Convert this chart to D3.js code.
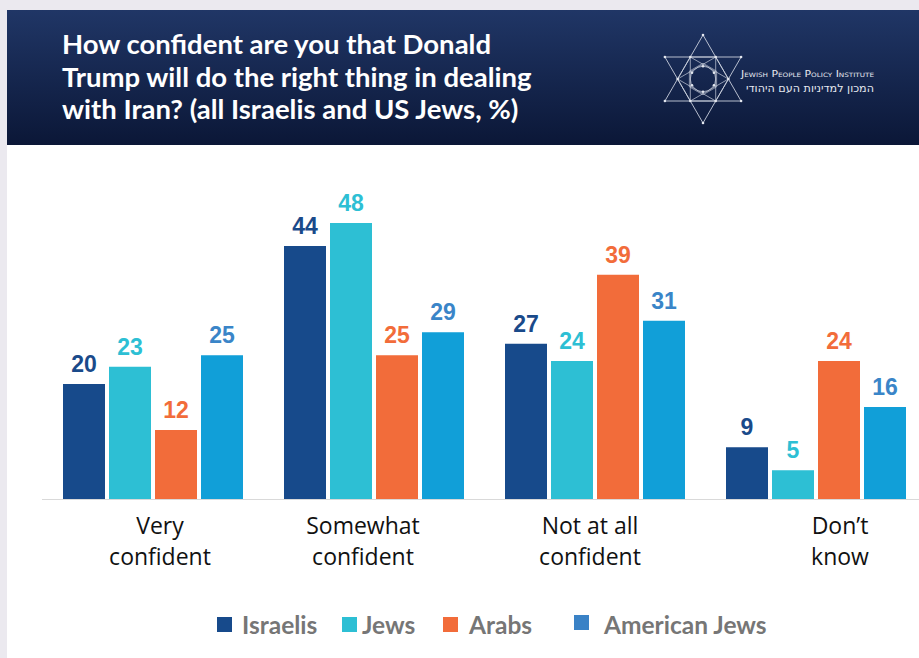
<!DOCTYPE html>
<html>
<head>
<meta charset="utf-8">
<script src="https://cdn.jsdelivr.net/npm/d3@7"></script>
<style>
  html, body { margin: 0; padding: 0; background: #ebe9ef; }
  svg { display: block; }
</style>
</head>
<body>
<svg id="chart" width="919" height="658"></svg>
<script>
// Survey results: confidence in Trump's handling of Iran (%)
const categories = ["Very confident", "Somewhat confident", "Not at all confident", "Don't know"];
const categoryLines = [["Very", "confident"], ["Somewhat", "confident"], ["Not at all", "confident"], ["Don\u2019t", "know"]];
const seriesNames = ["Israelis", "Jews", "Arabs", "American Jews"];
const israelis = [20, 44, 27, 9];
const jews = [23, 48, 24, 5];
const arabs = [12, 25, 39, 24];
const americanJews = [25, 29, 31, 16];
const titleLines = [
  "How confident are you that Donald",
  "Trump will do the right thing in dealing",
  "with Iran? (all Israelis and US Jews, %)"
];

const seriesValues = [israelis, jews, arabs, americanJews];
const barColors = ["#174a8b", "#2dbfd4", "#f26c3a", "#119fd8"];
const labelColors = ["#1a4a8a", "#2dbfd4", "#f26c3a", "#3a85c8"];
const swatchColors = ["#174a8b", "#2dbfd4", "#f26c3a", "#3a82c6"];

const rows = categories.map((c, i) => ({
  category: c,
  values: seriesNames.map((s, j) => ({ series: s, idx: j, value: seriesValues[j][i] }))
}));

const svg = d3.select("#chart");

// Page panels
const defs = svg.append("defs");
const grad = defs.append("linearGradient").attr("id", "hdr").attr("x1", 0).attr("y1", 0).attr("x2", 0).attr("y2", 1);
grad.append("stop").attr("offset", "0%").attr("stop-color", "#203666");
grad.append("stop").attr("offset", "100%").attr("stop-color", "#0b1737");

svg.append("rect").attr("x", 7).attr("y", 145).attr("width", 912).attr("height", 513).attr("fill", "#ffffff");
svg.append("rect").attr("x", 7).attr("y", 10).attr("width", 912).attr("height", 135).attr("fill", "url(#hdr)");

// Title
svg.append("g").selectAll("text").data(titleLines).join("text")
  .attr("x", 62).attr("y", (d, i) => 54 + i * 32.5)
  .attr("fill", "#ffffff")
  .attr("font-family", "Lato, 'Open Sans', sans-serif")
  .attr("font-weight", 700)
  .attr("font-size", 27.5)
  .text(d => d);

// Logo: hexagram with inner geometry
const logo = svg.append("g").attr("transform", "translate(703,79)");
const R = 44;
const pt = (r, deg) => [r * Math.cos(deg * Math.PI / 180), r * Math.sin(deg * Math.PI / 180)];
const line = d3.line();
const lineStroke = "#c9cfdc";
[[-90, 30, 150], [90, 210, 330]].forEach(tri => {
  logo.append("path").attr("d", line(tri.map(a => pt(R, a))) + "Z")
    .attr("fill", "none").attr("stroke", lineStroke).attr("stroke-width", 0.9);
});
const ri = R / Math.sqrt(3);
const hexPts = d3.range(6).map(k => pt(ri, k * 60));
logo.append("path").attr("d", line(hexPts) + "Z").attr("fill", "none").attr("stroke", lineStroke).attr("stroke-width", 0.8);
[[0, 120, 240], [60, 180, 300]].forEach(tri => {
  logo.append("path").attr("d", line(tri.map(a => pt(ri, a))) + "Z")
    .attr("fill", "none").attr("stroke", lineStroke).attr("stroke-width", 0.7);
});
logo.append("circle").attr("r", ri * 0.5).attr("fill", "none").attr("stroke", lineStroke).attr("stroke-width", 0.7);
logo.append("path").attr("d", line(d3.range(6).map(k => pt(ri * 0.62, k * 60 + 30))) + "Z")
  .attr("fill", "none").attr("stroke", lineStroke).attr("stroke-width", 0.6);
logo.selectAll("circle.node").data(hexPts.concat(d3.range(6).map(k => pt(R, k * 60 + 30))).concat(d3.range(6).map(k => pt(ri * 0.5, k * 60 + 30))))
  .join("circle").attr("class", "node").attr("cx", d => d[0]).attr("cy", d => d[1]).attr("r", 1.3).attr("fill", "#e3e7ef");
svg.append("text").attr("x", 741).attr("y", 77)
  .attr("fill", "#e6e9f0").attr("font-family", "'Liberation Sans Narrow', 'DejaVu Sans Condensed', sans-serif")
  .attr("font-size", 9).attr("font-variant", "small-caps").attr("textLength", 133).attr("lengthAdjust", "spacingAndGlyphs")
  .text("Jewish People Policy Institute");
svg.append("text").attr("x", 874).attr("y", 92).attr("text-anchor", "end")
  .attr("fill", "#e6e9f0").attr("font-family", "'DejaVu Sans', sans-serif")
  .attr("font-size", 11).attr("textLength", 128).attr("lengthAdjust", "spacingAndGlyphs")
  .text("המכון למדיניות העם היהודי");

// Scales
const baseY = 499;
const y = d3.scaleLinear().domain([0, 48]).range([baseY, 223]);
const x0 = d3.scaleBand().domain(categories).range([42.5, 926.5]);
const x1 = d3.scaleBand().domain(seriesNames).range([0, 184]).paddingInner(4 / 46).paddingOuter(4 / 92);
const groupLeft = c => x0(c) + x0.bandwidth() / 2 - 92;

// Baseline
svg.append("line").attr("x1", 42).attr("x2", 919).attr("y1", baseY + 0.5).attr("y2", baseY + 0.5)
  .attr("stroke", "#d9d9d9").attr("stroke-width", 1.2);

// Bars and value labels
const groups = svg.append("g").selectAll("g").data(rows).join("g")
  .attr("transform", d => `translate(${groupLeft(d.category)},0)`);
groups.selectAll("rect").data(d => d.values).join("rect")
  .attr("x", d => x1(d.series))
  .attr("y", d => y(d.value))
  .attr("width", x1.bandwidth())
  .attr("height", d => baseY - y(d.value))
  .attr("fill", d => barColors[d.idx]);
groups.selectAll("text").data(d => d.values).join("text")
  .attr("x", d => x1(d.series) + x1.bandwidth() / 2)
  .attr("y", d => y(d.value) - 12)
  .attr("text-anchor", "middle")
  .attr("fill", d => labelColors[d.idx])
  .attr("font-family", "'Liberation Sans', Arial, sans-serif")
  .attr("font-weight", 700)
  .attr("font-size", 23)
  .text(d => d.value);

// Category labels (two lines each, nudged like the original text boxes)
const labelNudge = [7, -11, -5, 24];
const catG = svg.append("g").selectAll("text").data(categories).join("text")
  .attr("text-anchor", "middle")
  .attr("fill", "#111111")
  .attr("font-family", "'Open Sans', sans-serif")
  .attr("font-size", 23)
  .attr("transform", (d, i) => `translate(${x0(d) + x0.bandwidth() / 2 + labelNudge[i]},0)`);
catG.selectAll("tspan").data((d, i) => categoryLines[i]).join("tspan")
  .attr("x", 0).attr("y", (d, i) => 534 + i * 31)
  .text(d => d);

// Legend
const legendSwatchX = [217, 342, 443, 574];
const legendTextX = [242, 362, 469, 604];
const legend = svg.append("g").selectAll("g").data(seriesNames).join("g");
legend.append("rect")
  .attr("x", (d, i) => legendSwatchX[i]).attr("y", (d, i) => i === 3 ? 615 : 617)
  .attr("width", 15).attr("height", 15)
  .attr("fill", (d, i) => swatchColors[i]);
legend.append("text")
  .attr("x", (d, i) => legendTextX[i]).attr("y", 634)
  .attr("fill", "#767676")
  .attr("font-family", "Lato, sans-serif")
  .attr("font-weight", 700)
  .attr("font-size", 24.5)
  .text(d => d);
</script>
</body>
</html>
